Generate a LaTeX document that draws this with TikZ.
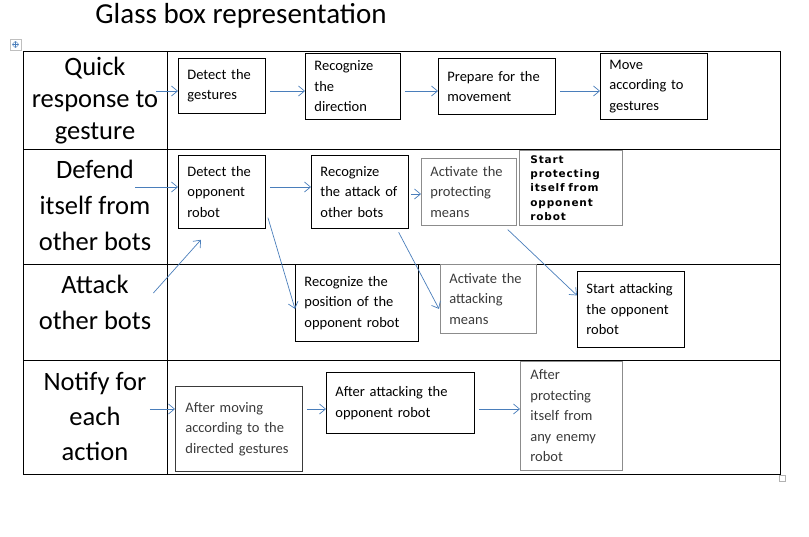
\documentclass[tikz,border=0pt]{standalone}
\usepackage{fontspec}
\setmainfont{Carlito}
\newfontfamily\wideface{DejaVu Sans}[LetterSpace=8]
\usepackage{tikz}
\usetikzlibrary{shapes,arrows,arrows.meta}

\definecolor{arrowblue}{HTML}{4A7EBB}
\definecolor{boxgray}{HTML}{8C8C8C}
\definecolor{textgray}{HTML}{3A3A3A}

\tikzset{
	rowlabel/.style = {align=center, font=\fontsize{26}{34}\selectfont},
	stepbox/.style = {draw, line width=0.8pt, anchor=north west, align=left,
		inner xsep=9pt, inner ysep=2pt, font=\fontsize{14.5}{20.5}\selectfont},
	greybox/.style = {stepbox, draw=boxgray, text=textgray},
	flow/.style = {draw=arrowblue, line width=0.7pt,
		-{Straight Barb[length=6pt,width=10pt]}, shorten <=4pt}
}

\begin{document}
\begin{tikzpicture}[x=1pt, y=-1pt]
		\useasboundingbox (0,0) rectangle (809,536);
		
		% title
		\node (title) at (241,16) {\fontsize{29}{30}\selectfont Glass box representation};
		
		% table handles
		\draw[gray!50] (10,39) rectangle (21,50);
		\draw[arrowblue, line width=0.5pt, <->, >=to] (12,44.5) -- (19,44.5);
		\draw[arrowblue, line width=0.5pt, <->, >=to] (15.5,41) -- (15.5,48);
		\draw[gray!60] (779,475) rectangle (785,481);
		
		% table
		\draw[line width=0.8pt] (23,51) rectangle (780,474);
		\draw[line width=0.8pt] (167,51) -- (167,474);
		\draw[line width=0.8pt] (23,149) -- (780,149);
		\draw[line width=0.8pt] (23,264) -- (780,264);
		\draw[line width=0.8pt] (23,360) -- (780,360);
		
		% row labels
		\node[rowlabel, font=\fontsize{26.5}{32}\selectfont] (quick) at (95,101) {Quick\\response to\\gesture};
		\node[rowlabel, font=\fontsize{26.5}{36}\selectfont] (defend) at (95,205) {Defend\\itself from\\other bots};
		\node[rowlabel, font=\fontsize{26.5}{36}\selectfont] (attack) at (95,302) {Attack\\other bots};
		\node[rowlabel, font=\fontsize{26.5}{35}\selectfont] (notify) at (95,416) {Notify for\\each\\action};
		
		% row 1
		\node[stepbox, text width=69pt, minimum height=55pt] (detg) at (178,58) {Detect the\\gestures};
		\node[stepbox, text width=77pt, minimum height=66pt] (recd) at (305,53) {Recognize\\the\\direction};
		\node[stepbox, text width=99pt, minimum height=56pt] (prep) at (438,58) {Prepare for the\\movement};
		\node[stepbox, text width=89pt, minimum height=66pt] (move) at (600,53) {Move\\according to\\gestures};
		
		% row 2
		\node[stepbox, text width=69pt, minimum height=73pt] (deto) at (178,155) {Detect the\\opponent\\robot};
		\node[stepbox, text width=79pt, minimum height=73pt] (reca) at (311,155) {Recognize\\the attack of\\other bots};
		\node[greybox, text width=77pt, minimum height=67pt] (actp) at (421,158) {Activate the\\protecting\\means};
		\node[greybox, text=black, inner xsep=11pt, inner ysep=1pt, text width=81pt, minimum height=75pt,
			font=\wideface\bfseries\fontsize{10.5}{14.3}\selectfont] (strp) at (519,150)
			{Start\\protecting\\itself from\\opponent\\robot};
		
		% row 3
		\node[stepbox, text width=105pt, minimum height=77pt] (recp) at (295,264) {Recognize the\\position of the\\opponent robot};
		\node[greybox, text width=78pt, minimum height=69pt] (acta) at (440,264) {Activate the\\attacking\\means};
		\node[stepbox, text width=89pt, minimum height=76pt] (stat) at (577,271) {Start attacking\\the opponent\\robot};
		
		% row 4
		\node[stepbox, draw=textgray, text=textgray, inner xsep=10pt, text width=107pt, minimum height=85pt] (aftm) at (175,386) {After moving\\according to the\\directed gestures};
		\node[stepbox, text width=130pt, minimum height=61pt] (afta) at (326,372) {After attacking the\\opponent robot};
		\node[greybox, inner xsep=10pt, text width=82pt, minimum height=109pt] (aftp) at (520,361) {After\\protecting\\itself from\\any enemy\\robot};
		
		% arrow levels
		\coordinate (lv1) at (0,91);
		\coordinate (lv2) at (0,187);
		\coordinate (lv2b) at (0,194);
		\coordinate (lv4) at (0,409);
		
		% arrows
		\draw[flow] (lv1 -| 152,0) -- (lv1 -| detg.west);
		\draw[flow] (lv1 -| detg.east) -- (lv1 -| recd.west);
		\draw[flow] (lv1 -| recd.east) -- (lv1 -| prep.west);
		\draw[flow] (lv1 -| prep.east) -- (lv1 -| move.west);
		
		\draw[flow, shorten <=0pt] (lv2 -| 135,0) -- (lv2 -| deto.west);
		\draw[flow] (lv2 -| deto.east) -- (lv2 -| reca.west);
		\draw[flow, shorten <=2pt] (lv2b -| reca.east) -- (lv2b -| actp.west);
		
		\draw[flow] ([xshift=1pt,yshift=15pt]deto.south east) -- ([yshift=-6pt]recp.west);
		\draw[flow] ([xshift=-4pt,yshift=6pt]attack.east) -- ([xshift=-21pt,yshift=-11pt]deto.south);
		\draw[flow] ([xshift=-12pt,yshift=0pt]reca.south east) -- ([xshift=-1pt,yshift=-10pt]acta.west);
		\draw[flow] ([xshift=-12pt,yshift=-1pt]actp.south east) -- ([yshift=14pt]stat.west);
		
		\draw[flow, shorten <=0pt] (lv4 -| notify.east) -- (lv4 -| aftm.west);
		\draw[flow] (lv4 -| aftm.east) -- (lv4 -| afta.west);
		\draw[flow] (lv4 -| afta.east) -- (lv4 -| aftp.west);
		
		\end{tikzpicture}
\end{document}
